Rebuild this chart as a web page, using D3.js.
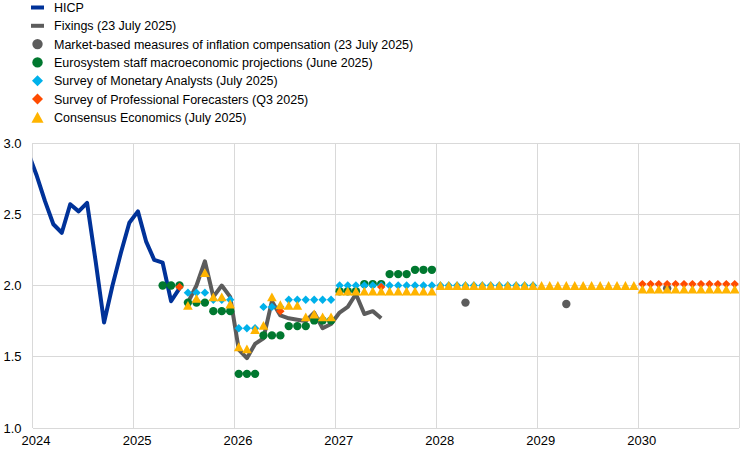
<!DOCTYPE html>
<html>
<head>
<meta charset="utf-8">
<script src="https://cdn.jsdelivr.net/npm/d3@7"></script>
<style>
  html, body { margin: 0; padding: 0; background: #fff; }
  svg { display: block; font-family: "Liberation Sans", Arial, sans-serif; }
</style>
</head>
<body>
<svg id="chart" width="745" height="454"></svg>
<script>
// ---------------- DATA ----------------
const yTicks = [1.0, 1.5, 2.0, 2.5, 3.0];
const xTickYears = [2024, 2025, 2026, 2027, 2028, 2029, 2030];

// HICP, monthly from Dec 2023
const hicpStart = "2023-12";
const hicpValues = [2.93, 2.77, 2.59, 2.43, 2.37, 2.57, 2.52, 2.58, 2.17, 1.74, 2.00, 2.23,
                    2.44, 2.52, 2.31, 2.18, 2.16, 1.89, 1.98];

// Fixings (23 July 2025), monthly from Jul 2025
const fixingsStart = "2025-07";
const fixingsValues = [1.88, 2.00, 2.17, 1.92, 2.00, 1.92,
                       1.55, 1.49, 1.59, 1.63, 1.89, 1.79, 1.77, 1.76, 1.75, 1.81, 1.70, 1.73,
                       1.81, 1.85, 1.94, 1.80, 1.82, 1.77];

// Market-based measures of inflation compensation (23 July 2025)
const marketDates = ["2028-04", "2029-04", "2030-04"];
const marketValues = [1.88, 1.87, 1.98];

// Eurosystem staff macroeconomic projections (June 2025), quarterly
const eurosystemQuarters = ["2025Q2", "2025Q3", "2025Q4", "2026Q1", "2026Q2", "2026Q3", "2026Q4",
                            "2027Q1", "2027Q2", "2027Q3", "2027Q4"];
const eurosystemValues = [2.00, 1.88, 1.82, 1.38, 1.65, 1.715, 1.755, 1.96, 2.01, 2.08, 2.11];

// Survey of Monetary Analysts (July 2025), quarterly
const smaQuarters = ["2025Q3", "2025Q4", "2026Q1", "2026Q2", "2026Q3", "2026Q4",
                     "2027Q1", "2027Q2", "2027Q3", "2027Q4", "2028Q1", "2028Q2", "2028Q3", "2028Q4"];
const smaValues = [1.95, 1.90, 1.70, 1.85, 1.90, 1.90, 2.00, 2.00, 2.00, 2.00, 2.00, 2.00, 2.00, 2.00];

// Survey of Professional Forecasters (Q3 2025)
const spfDates = ["2025-06", "2026-06", "2027-06"];
const spfValues = [1.99, 1.82, 1.99];
const spfLongerTermYear = 2030;
const spfLongerTermValue = 2.01;

// Consensus Economics (July 2025): monthly Jul 2025 - Dec 2026, then annual
const consensusStart = "2025-07";
const consensusMonthlyValues = [1.86, 1.91, 2.09, 1.92, 1.92, 1.87,
                                1.57, 1.555, 1.69, 1.72, 1.92, 1.865, 1.86, 1.86, 1.78, 1.80, 1.78, 1.78];
const consensusYears = [2027, 2028, 2029, 2030];
const consensusYearValues = [1.96, 2.00, 2.00, 1.975];

const legendItems = [
  { label: "HICP", type: "line", color: "#003299" },
  { label: "Fixings (23 July 2025)", type: "line", color: "#5c5c5c" },
  { label: "Market-based measures of inflation compensation (23 July 2025)", type: "circle", color: "#5c5c5c" },
  { label: "Eurosystem staff macroeconomic projections (June 2025)", type: "circle", color: "#00782f" },
  { label: "Survey of Monetary Analysts (July 2025)", type: "diamond", color: "#00b1ea" },
  { label: "Survey of Professional Forecasters (Q3 2025)", type: "diamond", color: "#ff4b00" },
  { label: "Consensus Economics (July 2025)", type: "triangle", color: "#ffb400" }
];

// ---------------- HELPERS ----------------
function parseMonth(s) { const [yy, mm] = s.split("-").map(Number); return { yy, mm: mm - 1 }; }
function midMonth(yy, mm) {
  const a = new Date(yy, mm, 1), b = new Date(yy, mm + 1, 1);
  return new Date((+a + +b) / 2);
}
function monthlySeries(start, values) {
  const { yy, mm } = parseMonth(start);
  return values.map((v, i) => ({ date: midMonth(yy, mm + i), value: v }));
}
function quarterlySeries(quarters, values) {
  const out = [];
  quarters.forEach((q, i) => {
    const yy = +q.slice(0, 4), qq = +q.slice(5) - 1;
    for (let k = 0; k < 3; k++) out.push({ date: midMonth(yy, qq * 3 + k), value: values[i] });
  });
  return out;
}
function annualSeries(years, values) {
  const out = [];
  years.forEach((yy, i) => { for (let k = 0; k < 12; k++) out.push({ date: midMonth(yy, k), value: values[i] }); });
  return out;
}
function pointSeries(dates, values) {
  return dates.map((s, i) => { const { yy, mm } = parseMonth(s); return { date: midMonth(yy, mm), value: values[i] }; });
}

const hicp = monthlySeries(hicpStart, hicpValues);
const fixings = monthlySeries(fixingsStart, fixingsValues);
const market = pointSeries(marketDates, marketValues);
const eurosystem = quarterlySeries(eurosystemQuarters, eurosystemValues);
const sma = quarterlySeries(smaQuarters, smaValues);
const spf = pointSeries(spfDates, spfValues).concat(annualSeries([spfLongerTermYear], [spfLongerTermValue]));
const consensus = monthlySeries(consensusStart, consensusMonthlyValues).concat(annualSeries(consensusYears, consensusYearValues));

// ---------------- CHART ----------------
const svg = d3.select("#chart");
const pLeft = 32.5, pRight = 739, pTop = 143, pBottom = 428;

const x = d3.scaleTime().domain([new Date(2024, 0, 1), new Date(2031, 0, 1)]).range([pLeft, pRight]);
const y = d3.scaleLinear().domain([1, 3]).range([pBottom, pTop]);

svg.append("defs").append("clipPath").attr("id", "plotclip")
  .append("rect").attr("x", pLeft).attr("y", pTop - 20).attr("width", pRight - pLeft).attr("height", pBottom - pTop + 40);

// gridlines
const grid = svg.append("g");
grid.selectAll("line.h").data(yTicks).join("line")
  .attr("x1", pLeft).attr("x2", pRight).attr("y1", d => y(d)).attr("y2", d => y(d))
  .attr("stroke", "#d9d9d9").attr("stroke-width", 1).attr("shape-rendering", "crispEdges");
grid.selectAll("line.v").data(xTickYears.concat([2031])).join("line")
  .attr("x1", d => x(new Date(d, 0, 1))).attr("x2", d => x(new Date(d, 0, 1)))
  .attr("y1", pTop).attr("y2", pBottom)
  .attr("stroke", "#d9d9d9").attr("stroke-width", 1).attr("shape-rendering", "crispEdges");

// y axis labels
const yAxis = d3.axisLeft(y).tickValues(yTicks).tickFormat(d3.format(".1f")).tickSize(0).tickPadding(11);
const gy = svg.append("g").attr("transform", `translate(${pLeft},0)`).call(yAxis);
gy.select(".domain").remove();
gy.selectAll("text").attr("font-size", 13).attr("fill", "#000").attr("font-family", "Liberation Sans, Arial, sans-serif");

// x axis labels
const xAxis = d3.axisBottom(x).tickValues(xTickYears.map(d => new Date(d, 0, 1)))
  .tickFormat(d3.timeFormat("%Y")).tickSize(0).tickPadding(8);
const gx = svg.append("g").attr("transform", `translate(0,${pBottom})`).call(xAxis);
gx.select(".domain").remove();
gx.selectAll("text").attr("font-size", 13).attr("fill", "#000").attr("dx", 3)
  .attr("font-family", "Liberation Sans, Arial, sans-serif");

// lines
const line = d3.line().x(d => x(d.date)).y(d => y(d.value));
const plot = svg.append("g").attr("clip-path", "url(#plotclip)");
plot.append("path").datum(hicp).attr("d", line).attr("fill", "none")
  .attr("stroke", "#003299").attr("stroke-width", 4).attr("stroke-linejoin", "round");
plot.append("path").datum(fixings).attr("d", line).attr("fill", "none")
  .attr("stroke", "#5c5c5c").attr("stroke-width", 4).attr("stroke-linejoin", "round");

// marker shapes
function shapePath(type, s) {
  if (type === "diamond") return `M0,${-s}L${s},0L0,${s}L${-s},0Z`;
  if (type === "triangle") return `M0,${-s}L${s * 1.1},${s}L${-s * 1.1},${s}Z`;
  return null;
}
function drawCircles(data, color, r) {
  plot.append("g").selectAll("circle").data(data).join("circle")
    .attr("cx", d => x(d.date)).attr("cy", d => y(d.value)).attr("r", r).attr("fill", color);
}
function drawShapes(data, color, type, s) {
  plot.append("g").selectAll("path").data(data).join("path")
    .attr("transform", d => `translate(${x(d.date)},${y(d.value)})`)
    .attr("d", shapePath(type, s)).attr("fill", color);
}
drawCircles(market, "#5c5c5c", 4.2);
drawCircles(eurosystem, "#00782f", 4.2);
drawShapes(sma, "#00b1ea", "diamond", 4.2);
drawShapes(spf, "#ff4b00", "diamond", 4.2);
drawShapes(consensus, "#ffb400", "triangle", 4.4);

// legend
const lg = svg.append("g");
legendItems.forEach((it, i) => {
  const cy = 7.5 + i * 18.3;
  const g = lg.append("g").attr("transform", `translate(37.5,${cy})`);
  if (it.type === "line") {
    g.append("rect").attr("x", -6.5).attr("y", -2).attr("width", 13).attr("height", 4).attr("fill", it.color);
  } else if (it.type === "circle") {
    g.append("circle").attr("r", 5.2).attr("fill", it.color);
  } else {
    g.append("path").attr("d", shapePath(it.type, 5.5)).attr("fill", it.color);
  }
  lg.append("text").attr("x", 54).attr("y", cy).attr("dy", "0.36em")
    .attr("font-size", 12.5).attr("fill", "#000").text(it.label);
});
</script>
</body>
</html>
